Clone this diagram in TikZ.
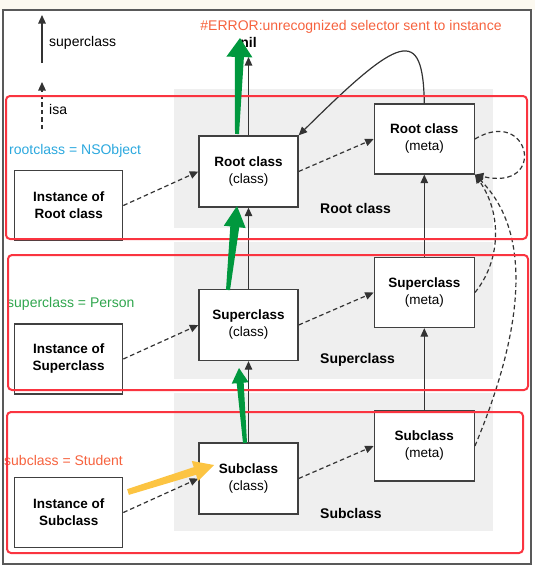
\documentclass[tikz,border=0pt]{standalone}
\usepackage{fontspec}
\setmainfont{Liberation Sans}
\usetikzlibrary{positioning, arrows.meta, calc}

\definecolor{framered}{RGB}{250,52,64}
\definecolor{panelgray}{RGB}{239,239,239}
\definecolor{errorange}{RGB}{246,98,62}
\definecolor{rootblue}{RGB}{43,168,222}
\definecolor{persongreen}{RGB}{48,166,78}
\definecolor{markgreen}{RGB}{0,152,62}
\definecolor{markyellow}{RGB}{252,196,66}
\definecolor{topcream}{RGB}{252,249,240}

% tapered marker arrow: from, to, colour, tail half width, neck half width, head half width, head length
\newcommand{\fatarrow}[7]{%
  \coordinate (fa-n) at ($(#2)!#7!(#1)$);
  \fill[#3] ($(#1)!#4!90:(#2)$) -- ($(fa-n)!#5!-90:(#1)$) -- ($(fa-n)!#6!-90:(#1)$) -- (#2)
    -- ($(fa-n)!#6!90:(#1)$) -- ($(fa-n)!#5!90:(#1)$) -- ($(#1)!#4!-90:(#2)$) -- cycle;}

\begin{document}
\begin{tikzpicture}[x=1pt, y=-1pt, >={Triangle[length=8.5pt,width=7.5pt]}, node distance=153.5pt]
    \tikzstyle{cls} = [draw=black!75, line width=1.3pt, fill=white, minimum width=99pt, minimum height=71pt, align=center, inner sep=2pt, font=\fontsize{13.5}{17}\selectfont]
    \tikzstyle{inst} = [cls, minimum width=108pt, minimum height=70pt, font=\fontsize{13.5}{17}\selectfont\bfseries]
    \tikzstyle{meta} = [cls, minimum width=100pt, minimum height=70pt]
    \tikzstyle{group} = [draw=framered, line width=2pt, rounded corners=4pt]
    \tikzstyle{tag} = [font=\fontsize{14}{17}\selectfont, anchor=west, inner sep=0pt]
    \tikzstyle{rowname} = [tag, font=\fontsize{14}{17}\selectfont\bfseries]
    \tikzstyle{isaline} = [->, dash pattern=on 4.5pt off 3pt, line width=1.2pt, draw=black!80]
    \tikzstyle{superline} = [->, line width=1.2pt, draw=black!80]

    \useasboundingbox (0,0) rectangle (535,570);
    \fill[topcream] (0,0) rectangle (535,10);
    \draw[black!65, line width=1.3pt] (3,10) rectangle (531,564);

    % Grey panels
    \fill[panelgray] (174,89) rectangle (493,228);
    \fill[panelgray] (174,242) rectangle (493,379);
    \fill[panelgray] (174,393) rectangle (493,531);

    % Legend
    \coordinate (legs0) at (42,63);
    \coordinate (legs1) at (42,15);
    \coordinate (legi0) at (42,129);
    \coordinate (legi1) at (42,82);
    \draw[superline] (legs0) -- (legs1);
    \draw[isaline] (legi0) -- (legi1);
    \node[tag] (legsuper) at (49,43) {superclass};
    \node[tag] (legisa) at (49,109) {isa};

    % Class column
    \node[cls] (rootc) at (248.5,171.5) {\textbf{Root class}\\(class)};
    \node[cls, below of=rootc] (superc) {\textbf{Superclass}\\(class)};
    \node[cls, below of=superc] (subc) {\textbf{Subclass}\\(class)};

    % Instances
    \node[inst, left=75pt of rootc, yshift=-34pt] (rooti) {Instance of\\Root class};
    \node[inst, left=75pt of superc, yshift=-34pt] (superi) {Instance of\\Superclass};
    \node[inst, left=75pt of subc, yshift=-34pt] (subi) {Instance of\\Subclass};

    % Meta column
    \node[meta, right=75pt of rootc, yshift=32.5pt] (rootm) {\textbf{Root class}\\(meta)};
    \node[meta, right=75pt of superc, yshift=32.5pt] (superm) {\textbf{Superclass}\\(meta)};
    \node[meta, right=75pt of subc, yshift=32.5pt] (subm) {\textbf{Subclass}\\(meta)};

    % Labels
    \node[rowname] (rootlbl) at (320,208) {Root class};
    \node[rowname] (superlbl) at (320,360) {Superclass};
    \node[rowname] (sublbl) at (320,513) {Subclass};
    \node[tag, rootblue] (rootname) at (9,151) {rootclass = NSObject};
    \node[tag, persongreen] (supername) at (7,304) {superclass = Person};
    \node[tag, errorange] (subname) at (4,460) {subclass = Student};
    \node[font=\fontsize{14}{17}\selectfont, errorange, inner sep=0pt] (err) at (351,27) {\#ERROR:unrecognized selector sent to instance};
    \coordinate (niltip) at (248.5,57);
    \node[above=8pt of niltip, inner sep=1pt, font=\fontsize{14}{17}\selectfont\bfseries] (nil) {nil};

    % superclass links
    \draw[superline] (subc) -- (superc);
    \draw[superline] (superc) -- (rootc);
    \draw[superline] (rootc) -- (niltip);
    \draw[superline] (subm) -- (superm);
    \draw[superline] (superm) -- (rootm);
    \draw[superline] (rootm.north) .. controls (423,25) and (400,35) .. (rootc.north east);

    % isa links
    \draw[isaline] (rooti.east) -- (rootc.west);
    \draw[isaline] (superi.east) -- (superc.west);
    \draw[isaline] (subi.east) -- (subc.west);
    \draw[isaline] (rootc.east) -- (rootm.west);
    \draw[isaline] (superc.east) -- (superm.west);
    \draw[isaline] (subc.east) -- (subm.west);
    \draw[isaline] (rootm.east) .. controls (530,106) and (548,192) .. (rootm.south east);
    \draw[isaline] (superm.east) .. controls (500,262) and (503,215) .. (rootm.south east);
    \draw[isaline] (subm.east) .. controls (515,350) and (540,240) .. (rootm.south east);

    % Red groups
    \draw[group] (6,96) rectangle (527,239);
    \draw[group] (8,255) rectangle (528,390);
    \draw[group] (7,412) rectangle (523,553);

    % Marker arrows
    \coordinate (g1a) at (237,134);
    \coordinate (g1b) at (240,38);
    \coordinate (g2a) at (228,290);
    \coordinate (g2b) at (237,206);
    \coordinate (g3a) at (245,443);
    \coordinate (g3b) at (239,368);
    \coordinate (ya) at (128,492);
    \coordinate (yb) at (214,465);
    \fatarrow{g1a}{g1b}{markgreen}{2pt}{4.5pt}{13pt}{19pt}
    \fatarrow{g2a}{g2b}{markgreen}{2pt}{4.5pt}{11pt}{21pt}
    \fatarrow{g3a}{g3b}{markgreen}{2pt}{3.5pt}{8.5pt}{15pt}
    \fatarrow{ya}{yb}{markyellow}{3pt}{4pt}{10.5pt}{20pt}
\end{tikzpicture}
\end{document}
